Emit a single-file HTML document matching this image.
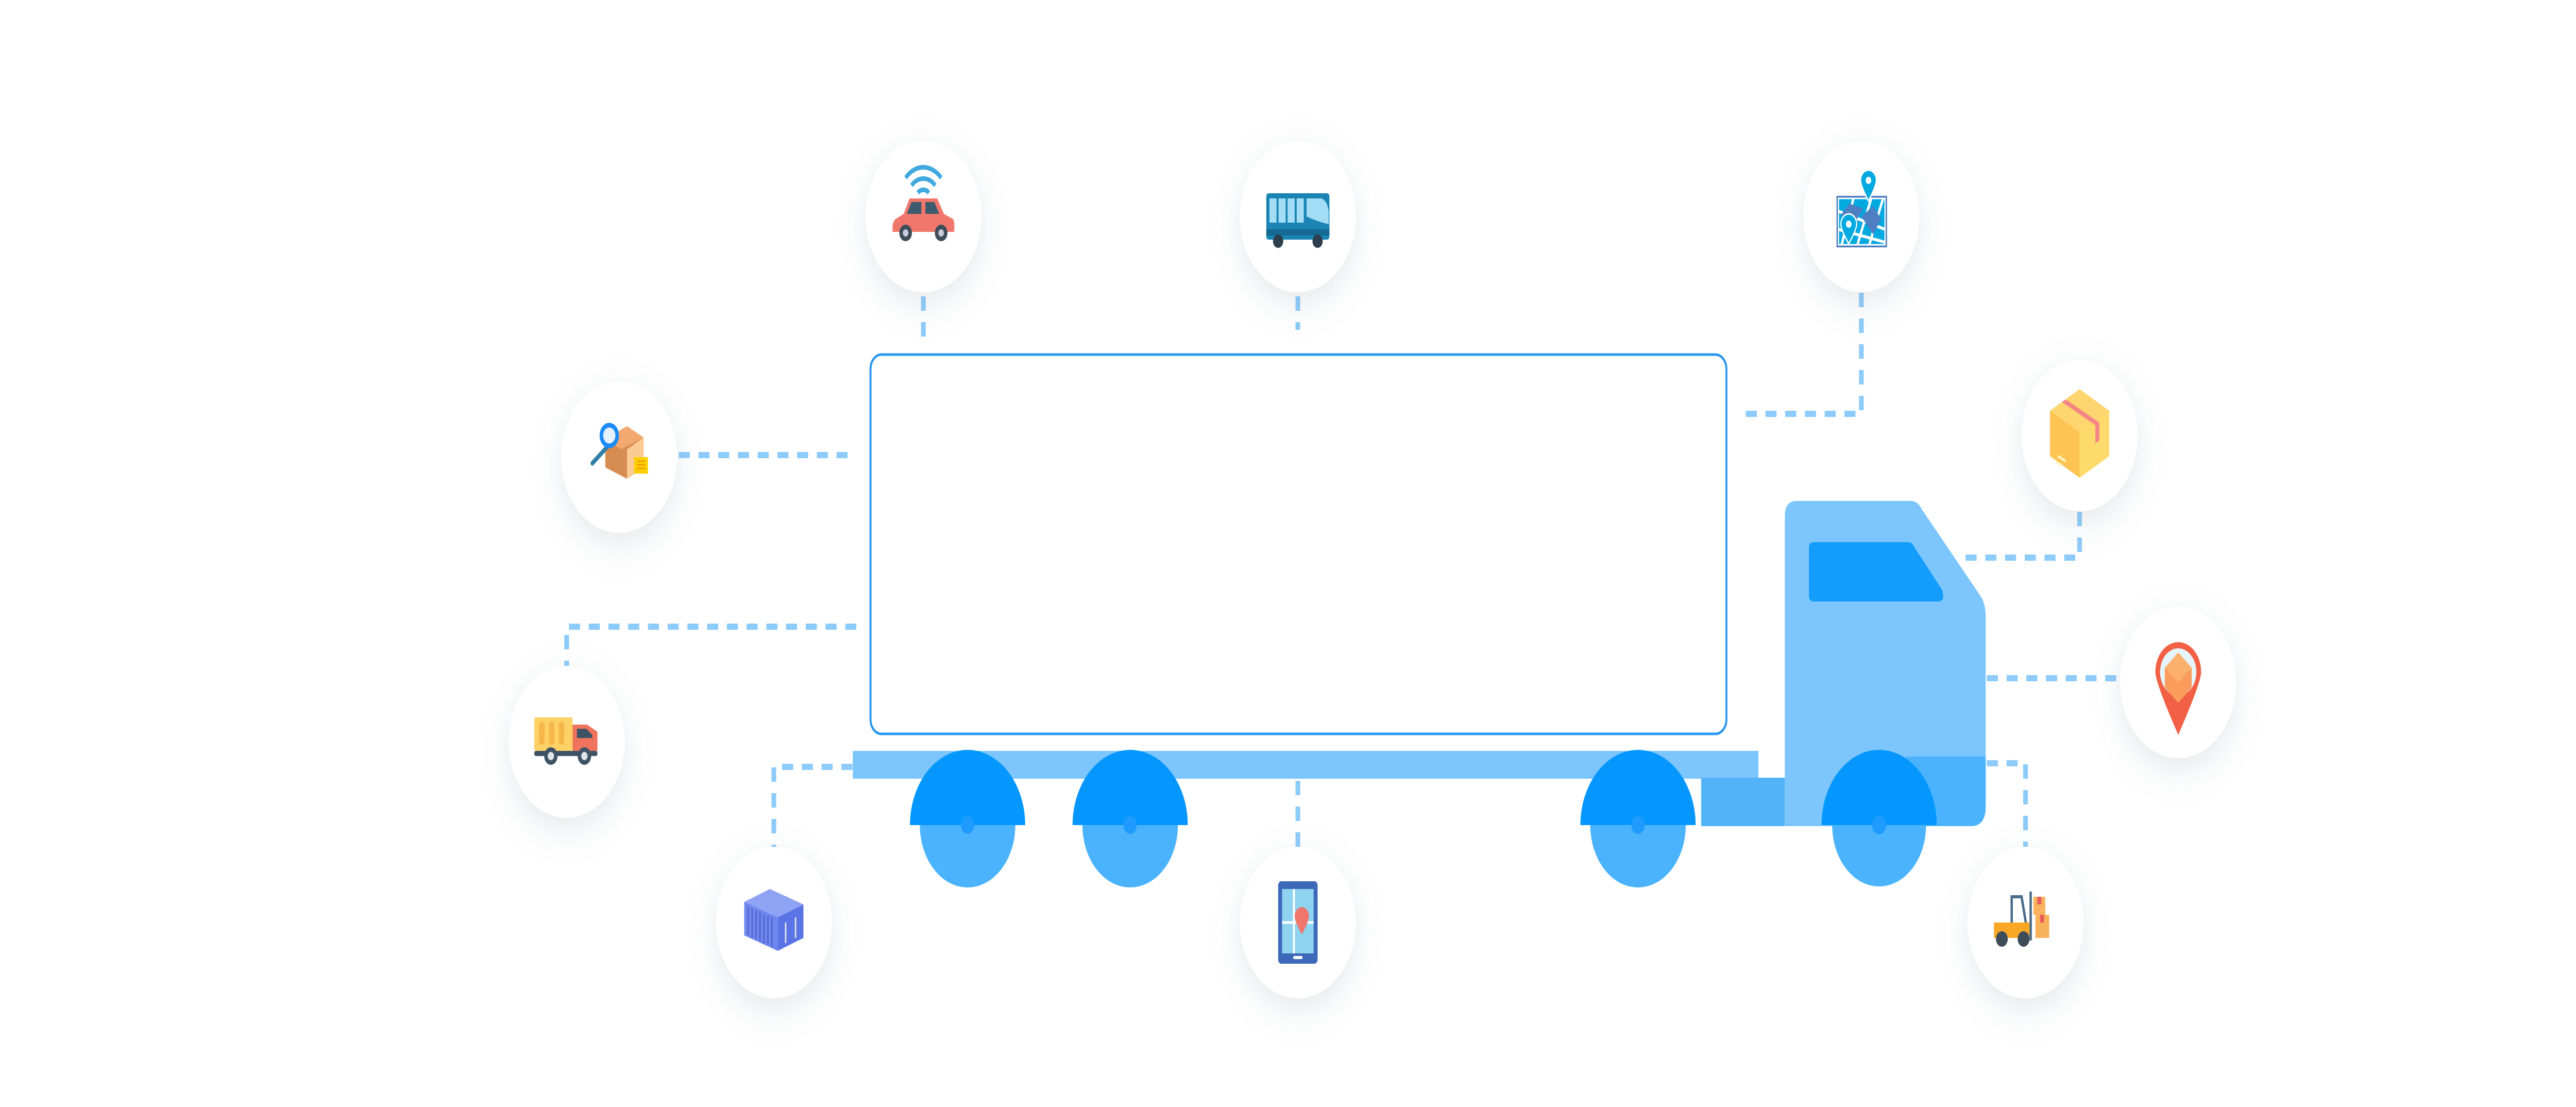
<!DOCTYPE html>
<html><head><meta charset="utf-8"><style>
html,body{margin:0;padding:0;background:#fff;width:100vw;height:100vh;overflow:hidden}
svg{display:block;position:fixed;left:0;top:0;width:100vw;height:100vh}
</style></head><body>
<svg viewBox="0 0 6528 2148" preserveAspectRatio="none" xmlns="http://www.w3.org/2000/svg" font-family="Liberation Sans, sans-serif">
<defs>
<filter id="sh" x="-50%" y="-50%" width="200%" height="200%">
<feDropShadow dx="0" dy="22" stdDeviation="34" flood-color="#8a94a6" flood-opacity="0.22"/>
</filter>
</defs>
<rect width="6528" height="2148" fill="#fff"/>

<g stroke="#8DCBFA" stroke-width="12" fill="none" stroke-dasharray="28 22">
<path d="M2340 575 V655"/>
<path d="M3289 575 V640"/>
<path d="M4717 568 V803 H4410"/>
<path d="M5270 993 V1082 H4970"/>
<path d="M5035 1316 H5375"/>
<path d="M5035 1481 H5133 V1645"/>
<path d="M3289 1515 V1645"/>
<path d="M2160 1488 H1961 V1645"/>
<path d="M2170 1216 H1436 V1292"/>
<path d="M1720 883 H2150"/>
</g>

<rect x="2206" y="688" width="2169" height="736" rx="28" fill="#fff" stroke="#2A97F0" stroke-width="5"/>
<rect x="2161" y="1457" width="2294" height="54" fill="#7CC6FD"/>

<g>
<circle cx="2452" cy="1601" r="121" fill="#4BB3FD"/>
<path d="M2306 1601 A146 146 0 0 1 2598 1601 Z" fill="#0597FE"/>
<circle cx="2452" cy="1601" r="17" fill="#1E9BFC"/>
<circle cx="2864" cy="1601" r="121" fill="#4BB3FD"/>
<path d="M2718 1601 A146 146 0 0 1 3010 1601 Z" fill="#0597FE"/>
<circle cx="2864" cy="1601" r="17" fill="#1E9BFC"/>
<circle cx="4151" cy="1601" r="121" fill="#4BB3FD"/>
<path d="M4005 1601 A146 146 0 0 1 4297 1601 Z" fill="#0597FE"/>
<circle cx="4151" cy="1601" r="17" fill="#1E9BFC"/>
</g>

<rect x="4300" y="1457" width="156" height="52" fill="#7CC6FD"/>
<rect x="4311" y="1509" width="212" height="94" fill="#52B3F9"/>
<path d="M4553 972 H4842 Q4860 972 4870 988 L5022 1160 Q5032 1175 5032 1195 V1565 Q5032 1603 4995 1603 H4523 V1002 Q4523 972 4553 972 Z" fill="#7CC6FD"/>
<path d="M4830 1468 H5032 V1565 Q5032 1603 4995 1603 H4830 Z" fill="#4BB3FD"/>
<path d="M4596 1052 H4836 Q4845 1052 4850 1060 L4922 1145 Q4930 1167 4912 1167 H4596 Q4584 1167 4584 1155 V1064 Q4584 1052 4596 1052 Z" fill="#159DFE"/>
<circle cx="4762" cy="1601" r="119" fill="#4BB3FD"/>
<path d="M4616 1601 A146 146 0 0 1 4908 1601 Z" fill="#0597FE"/>
<circle cx="4762" cy="1601" r="18" fill="#1E9BFC"/>

<g fill="#fff" filter="url(#sh)">
<circle cx="2340" cy="420" r="147"/>
<circle cx="3289" cy="420" r="147"/>
<circle cx="4717" cy="420" r="147"/>
<circle cx="5270" cy="845" r="147"/>
<circle cx="5520" cy="1324" r="147"/>
<circle cx="5133" cy="1790" r="147"/>
<circle cx="3289" cy="1790" r="147"/>
<circle cx="1961" cy="1790" r="147"/>
<circle cx="1436" cy="1440" r="147"/>
<circle cx="1569" cy="887" r="147"/>
</g>

<g transform="translate(2340 420)">
<path d="M-45 -75 A60 60 0 0 1 45 -75" stroke="#3FA9E0" stroke-width="9" fill="none"/>
<path d="M-30 -60 A40 40 0 0 1 30 -60" stroke="#3FA9E0" stroke-width="9" fill="none"/>
<path d="M-14 -46 A20 20 0 0 1 14 -46" stroke="#3FA9E0" stroke-width="9" fill="none"/>
<path d="M-70 5 L-50 -5 L-35 -35 H35 L52 -5 L75 5 Q80 10 78 30 H-78 Q-80 10 -70 5 Z" fill="#F1776C"/>
<path d="M-30 -28 H-5 V-5 H-42 Z M5 -28 H28 L40 -5 H5 Z" fill="#3E5A6E"/>
<circle cx="-45" cy="32" r="16" fill="#3E4C5A"/><circle cx="-45" cy="32" r="7" fill="#ccd"/>
<circle cx="45" cy="32" r="16" fill="#3E4C5A"/><circle cx="45" cy="32" r="7" fill="#ccd"/>
</g>

<g transform="translate(3289 420)">
<rect x="-80" y="-45" width="160" height="90" rx="6" fill="#1A85B4"/>
<rect x="-72" y="-35" width="18" height="47" fill="#A3DDF5"/><rect x="-49" y="-35" width="18" height="47" fill="#A3DDF5"/>
<rect x="-26" y="-35" width="18" height="47" fill="#A3DDF5"/><rect x="-3" y="-35" width="18" height="47" fill="#A3DDF5"/>
<path d="M22 -35 H60 Q75 -30 78 -10 V15 Q50 10 22 0 Z" fill="#A3DDF5"/>
<rect x="-80" y="25" width="160" height="12" fill="#146A92"/>
<circle cx="-50" cy="48" r="13" fill="#2D3E4E"/><circle cx="50" cy="48" r="13" fill="#2D3E4E"/>
</g>

<g transform="translate(4717 420)">
<rect x="-63" y="-40" width="128" height="100" fill="#4E7FC2"/>
<rect x="-58" y="-35" width="118" height="90" fill="#00A9E0" stroke="#fff" stroke-width="3"/>
<path d="M-58 -10 L60 25 M-58 25 L60 50 M-20 -35 L-50 55 M25 -35 L-10 55 M55 -35 L20 55" stroke="#fff" stroke-width="6"/>
<path d="M-52 -3 L-30 -25 L5 -15 L-20 15 Z M0 0 L30 -20 L50 5 L30 35 Z" fill="#4E7FC2"/>
<path d="M18 -90 a20 20 0 0 1 20 20 q0 10 -20 40 q-20 -30 -20 -40 a20 20 0 0 1 20 -20z" fill="#00A9E0" stroke="#fff" stroke-width="3"/>
<circle cx="18" cy="-70" r="7" fill="#fff"/>
<path d="M-32 -5 a20 20 0 0 1 20 20 q0 10 -20 38 q-20 -28 -20 -38 a20 20 0 0 1 20 -20z" fill="#00A9E0" stroke="#fff" stroke-width="3"/>
<circle cx="-32" cy="15" r="7" fill="#fff"/>
</g>

<g transform="translate(5270 845)">
<path d="M0 -90 L75 -48 V40 L0 82 L-75 40 V-48 Z" fill="#FED56E"/>
<path d="M-75 -48 L0 -6 V82 L-75 40 Z" fill="#FDC453"/>
<path d="M0 -6 L75 -48 V40 L0 82 Z" fill="#FED96C"/>
<path d="M-45 -65 L40 -20 V15 L50 10 V-25 L-35 -70 Z" fill="#F48585"/>
<path d="M-55 40 L-35 50 M-58 52 L-45 58" stroke="#FFF2C0" stroke-width="5"/>
</g>

<g transform="translate(5520 1324)">
<path d="M0 -78 a58 58 0 0 1 58 58 q0 20 -58 122 q-58 -102 -58 -122 a58 58 0 0 1 58 -58z" fill="#F26145"/>
<circle cx="0" cy="-20" r="46" fill="#E6F5FB"/>
<path d="M0 -58 L34 -28 V10 L0 40 L-34 10 V-28 Z" fill="#FB9B5C"/>
<path d="M0 -58 L34 -28 L0 0 L-34 -28 Z" fill="#FCB06E"/>
</g>

<g transform="translate(5133 1790)">
<rect x="20" y="-50" width="30" height="35" fill="#F9B35C"/><rect x="30" y="-50" width="10" height="15" fill="#E85C5C"/>
<rect x="25" y="-15" width="35" height="45" fill="#F9B35C"/><rect x="37" y="-15" width="10" height="15" fill="#E85C5C"/>
<rect x="10" y="-60" width="6" height="95" fill="#4A6B8A"/>
<path d="M-35 -50 H-10 L5 20 H-35 Z" fill="none" stroke="#4A6B8A" stroke-width="6"/>
<path d="M-80 0 H10 V30 H-80 Z" fill="#F9A825"/>
<circle cx="-60" cy="32" r="15" fill="#3E4C5A"/><circle cx="-5" cy="32" r="15" fill="#3E4C5A"/>
</g>

<g transform="translate(3289 1790)">
<rect x="-50" y="-80" width="100" height="160" rx="8" fill="#3D69B8"/>
<rect x="-40" y="-65" width="80" height="125" fill="#8ED3F0"/>
<path d="M-10 -65 V60 M-40 0 H40" stroke="#fff" stroke-width="5"/>
<path d="M10 -30 a18 18 0 0 1 18 18 q0 10 -18 35 q-18 -25 -18 -35 a18 18 0 0 1 18 -18z" fill="#F0776C"/>
<rect x="-12" y="65" width="24" height="6" rx="3" fill="#fff"/>
</g>

<g transform="translate(1961 1790)">
<path d="M-75 -40 L-10 -65 L75 -35 L10 -10 Z" fill="#8FA3F5"/>
<path d="M-75 -40 L10 -10 V55 L-75 25 Z" fill="#6E86EE"/>
<path d="M10 -10 L75 -35 V30 L10 55 Z" fill="#5A74E6"/>
<g stroke="#4D63C9" stroke-width="3">
<path d="M-65 -30 V25 M-55 -27 V29 M-45 -23 V32 M-35 -20 V36 M-25 -16 V40 M-15 -13 V43 M-5 -10 V47"/>
</g>
<path d="M30 0 V40 M55 -10 V30" stroke="#DDE" stroke-width="4"/>
</g>

<g transform="translate(1436 1440)">
<rect x="-82" y="-48" width="97" height="65" rx="4" fill="#FED166"/>
<rect x="-70" y="-40" width="14" height="45" rx="7" fill="#F5B64A"/>
<rect x="-45" y="-40" width="14" height="45" rx="7" fill="#F5B64A"/>
<rect x="-20" y="-40" width="14" height="45" rx="7" fill="#F5B64A"/>
<path d="M15 -34 H52 L78 -20 V17 H15 Z" fill="#F0735D"/>
<path d="M26 -26 H50 L65 -14 V-8 H26 Z" fill="#3E5466"/>
<rect x="-82" y="17" width="160" height="10" rx="4" fill="#3E5466"/>
<circle cx="-40" cy="27" r="17" fill="#3E5466"/><circle cx="-40" cy="27" r="8" fill="#E2E6EA"/>
<circle cx="45" cy="27" r="17" fill="#3E5466"/><circle cx="45" cy="27" r="8" fill="#E2E6EA"/>
</g>

<g transform="translate(1569 887)">
<path d="M-35 -35 L20 -60 L62 -38 V20 L20 42 L-35 20 Z" fill="#D78C52"/>
<path d="M-35 -35 L20 -60 L62 -38 L5 -15 Z" fill="#F3A870"/>
<path d="M20 -15 L62 -38 V20 L20 42 Z" fill="#FCCB93"/>
<rect x="38" y="0" width="35" height="32" fill="#FCD000"/>
<path d="M46 8 H66 M46 15 H66 M46 22 H66" stroke="#F59B00" stroke-width="3"/>
<path d="M-30 -20 L-68 12" stroke="#2F7FA6" stroke-width="9" stroke-linecap="round"/>
<circle cx="-25" cy="-42" r="20" fill="#E5F1FF" stroke="#1B8CF7" stroke-width="9"/>
</g>
</svg>
</body></html>
